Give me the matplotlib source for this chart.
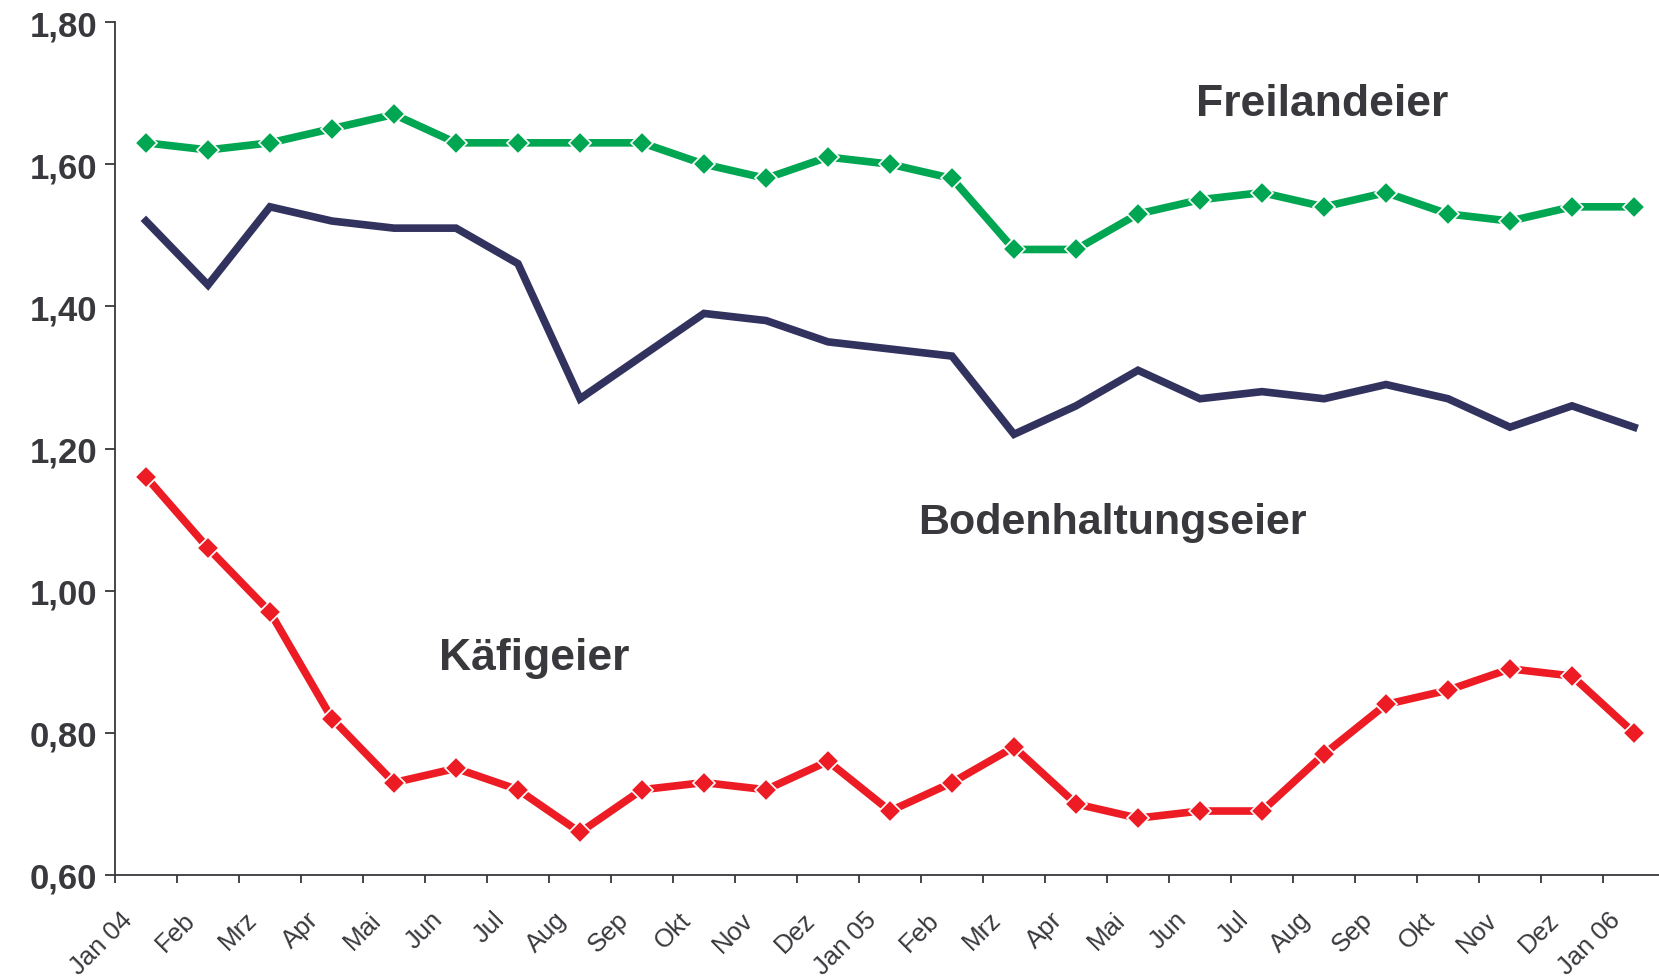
import matplotlib

matplotlib.use("Agg")
import matplotlib.pyplot as plt
from matplotlib.transforms import ScaledTranslation

# ─────────────────────────────────────────────
# DATA (Eierpreise, Jan 04 – Jan 06)
# ─────────────────────────────────────────────
months = ["Jan 04", "Feb", "Mrz", "Apr", "Mai", "Jun", "Jul", "Aug", "Sep",
          "Okt", "Nov", "Dez", "Jan 05", "Feb", "Mrz", "Apr", "Mai", "Jun",
          "Jul", "Aug", "Sep", "Okt", "Nov", "Dez", "Jan 06"]

freiland = [1.63, 1.62, 1.63, 1.65, 1.67, 1.63, 1.63, 1.63, 1.63, 1.60,
            1.58, 1.61, 1.60, 1.58, 1.48, 1.48, 1.53, 1.55, 1.56, 1.54,
            1.56, 1.53, 1.52, 1.54, 1.54]

boden = [1.52, 1.43, 1.54, 1.52, 1.51, 1.51, 1.46, 1.27, 1.33, 1.39,
         1.38, 1.35, 1.34, 1.33, 1.22, 1.26, 1.31, 1.27, 1.28, 1.27,
         1.29, 1.27, 1.23, 1.26, 1.23]

kaefig = [1.16, 1.06, 0.97, 0.82, 0.73, 0.75, 0.72, 0.66, 0.72, 0.73,
          0.72, 0.76, 0.69, 0.73, 0.78, 0.70, 0.68, 0.69, 0.69, 0.77,
          0.84, 0.86, 0.89, 0.88, 0.80]

y_ticks = [0.60, 0.80, 1.00, 1.20, 1.40, 1.60, 1.80]

# ─────────────────────────────────────────────
# STYLE
# ─────────────────────────────────────────────
TXT = "#38383d"
GREEN = "#00a651"
NAVY = "#32325f"
RED = "#ed1c24"
plt.rcParams["font.family"] = ["Liberation Sans", "DejaVu Sans"]

fig = plt.figure(figsize=(16.59, 9.79), dpi=100)
ax = fig.add_axes([115 / 1659, 103 / 979, 1544 / 1659, 853 / 979])

x = list(range(len(months)))
ax.plot(x, boden, color=NAVY, lw=5.5, solid_joinstyle="miter", zorder=2)
ax.plot(x, freiland, color=GREEN, lw=5.5, marker="D", ms=11,
        mec="white", mew=1.2, zorder=3)
ax.plot(x, kaefig, color=RED, lw=5.5, marker="D", ms=11,
        mec="white", mew=1.2, zorder=3)

ax.set_xlim(-0.5, -0.5 + 1544 / 62)
ax.set_ylim(0.6, 1.8)

# y axis
ax.set_yticks(y_ticks)
ax.set_yticklabels([f"{v:.2f}".replace(".", ",") for v in y_ticks],
                   fontsize=25, fontweight="bold", color=TXT)
ax.tick_params(axis="y", length=7, width=1.3, color=TXT, pad=6)

# x axis: Ticks an den Kategoriegrenzen
ax.set_xticks([i - 0.5 for i in x])
ax.set_xticklabels(months, rotation=45, ha="right", va="center",
                   rotation_mode="anchor", fontsize=18.5, color=TXT)
ax.tick_params(axis="x", length=6, width=1.3, color=TXT, pad=23)
offset = ScaledTranslation(0.14, 0, fig.dpi_scale_trans)
for lab in ax.get_xticklabels():
    lab.set_transform(lab.get_transform() + offset)

for s in ["top", "right"]:
    ax.spines[s].set_visible(False)
for s in ["left", "bottom"]:
    ax.spines[s].set_color(TXT)
    ax.spines[s].set_linewidth(1.3)

# Beschriftungen
lab_kw = dict(fontweight="bold", color=TXT, ha="left", va="center")
ax.text(16.94, 1.686, "Freilandeier", fontsize=32, **lab_kw)
ax.text(12.45, 1.097, "Bodenhaltungseier", fontsize=31, **lab_kw)
ax.text(4.73, 0.906, "Käfigeier", fontsize=32, **lab_kw)

fig.savefig("out.png", dpi=100)
